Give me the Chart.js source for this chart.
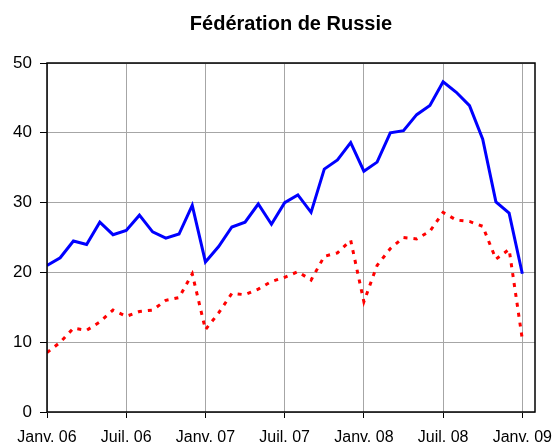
<!DOCTYPE html>
<html>
<head>
<meta charset="utf-8">
<script src="https://cdn.jsdelivr.net/npm/chart.js@4"></script>
<style>
    html, body { margin: 0; padding: 0; background: #fff; }
    #wrap { width: 556px; height: 446px; }
</style>
</head>
<body>
<div id="wrap"><canvas id="russie"></canvas></div>
<script>
// monthly values, Janv. 06 .. Janv. 09
const months = [
    '2006-01', '2006-02', '2006-03', '2006-04', '2006-05', '2006-06',
    '2006-07', '2006-08', '2006-09', '2006-10', '2006-11', '2006-12',
    '2007-01', '2007-02', '2007-03', '2007-04', '2007-05', '2007-06',
    '2007-07', '2007-08', '2007-09', '2007-10', '2007-11', '2007-12',
    '2008-01', '2008-02', '2008-03', '2008-04', '2008-05', '2008-06',
    '2008-07', '2008-08', '2008-09', '2008-10', '2008-11', '2008-12',
    '2009-01'
];
const blueSeries = [
    21.0, 22.1, 24.5, 24.0, 27.2, 25.4, 26.0, 28.2, 25.8, 24.9, 25.5, 29.6,
    21.5, 23.7, 26.5, 27.2, 29.8, 26.9, 30.0, 31.1, 28.6, 34.8, 36.1, 38.6,
    34.5, 35.8, 40.0, 40.3, 42.6, 43.9, 47.3, 45.8, 43.9, 39.1, 30.1, 28.5,
    19.8
];
const redSeries = [
    8.5, 10.0, 12.0, 11.7, 12.9, 14.6, 13.7, 14.4, 14.6, 16.0, 16.4, 19.8,
    11.8, 14.2, 17.0, 16.8, 17.6, 18.7, 19.3, 20.1, 18.9, 22.3, 22.8, 24.6,
    15.8, 21.0, 23.4, 25.0, 24.8, 25.9, 28.6, 27.5, 27.3, 26.6, 21.9, 23.3,
    10.4
];
const tickLabels = ['Janv. 06', 'Juil. 06', 'Janv. 07', 'Juil. 07', 'Janv. 08', 'Juil. 08', 'Janv. 09'];

const font = 'Arial, "Liberation Sans", sans-serif';

const chartAreaBorder = {
    id: 'chartAreaBorder',
    afterDraw(chart) {
        const { ctx, chartArea: { left, top, width, height } } = chart;
        ctx.save();
        ctx.strokeStyle = '#000';
        ctx.lineWidth = 1.5;
        ctx.strokeRect(left, top, width, height);
        ctx.restore();
    }
};

new Chart(document.getElementById('russie'), {
    type: 'line',
    plugins: [chartAreaBorder],
    data: {
        datasets: [
            {
                label: 'bleu',
                data: blueSeries.map((v, i) => ({ x: i, y: v })),
                borderColor: '#0000ff',
                borderWidth: 3,
                pointRadius: 0,
                tension: 0
            },
            {
                label: 'rouge',
                data: redSeries.map((v, i) => ({ x: i, y: v })),
                borderColor: '#ff0000',
                borderWidth: 3,
                borderDash: [4, 6],
                pointRadius: 0,
                tension: 0
            }
        ]
    },
    options: {
        responsive: true,
        maintainAspectRatio: false,
        animation: false,
        layout: { padding: { left: 0, right: 21, top: 0, bottom: 0 } },
        plugins: {
            legend: { display: false },
            tooltip: { enabled: false },
            title: {
                display: true,
                fullSize: false,
                text: 'Fédération de Russie',
                color: '#000',
                font: { family: font, size: 20, weight: 'bold', lineHeight: 1.2 },
                padding: { top: 12, bottom: 27 }
            }
        },
        scales: {
            x: {
                type: 'linear',
                min: 0,
                max: 36.96,
                afterBuildTicks: scale => {
                    scale.ticks = tickLabels.map((t, i) => ({ value: i * 6 }));
                },
                afterFit: scale => {
                    scale.height = 34;
                    scale.paddingLeft = 0;
                    scale.paddingRight = 0;
                },
                ticks: {
                    autoSkip: false,
                    maxRotation: 0,
                    padding: 10,
                    color: '#000',
                    font: { family: font, size: 16 },
                    callback: value => tickLabels[Math.round(value / 6)]
                },
                grid: { color: '#a6a6a6', lineWidth: 1, tickLength: 6, tickColor: '#000' },
                border: { display: false }
            },
            y: {
                min: 0,
                max: 50,
                afterFit: scale => { scale.width = 47; },
                ticks: {
                    stepSize: 10,
                    padding: 8,
                    color: '#000',
                    font: { family: font, size: 17 }
                },
                grid: { color: '#a6a6a6', lineWidth: 1, tickLength: 7, tickColor: '#000' },
                border: { display: false }
            }
        }
    }
});
</script>
</body>
</html>
